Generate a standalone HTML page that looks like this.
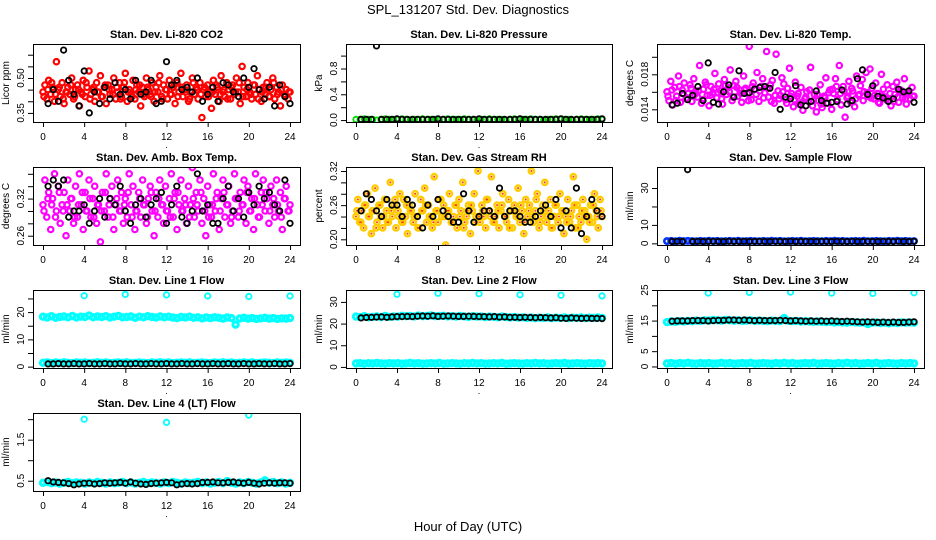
<!DOCTYPE html>
<html><head><meta charset="utf-8"><style>
body{margin:0;background:#fff;}
svg{display:block;font-family:"Liberation Sans",Arial,sans-serif;}
</style></head><body>
<svg id="chart" width="936" height="540" viewBox="0 0 936 540" xmlns="http://www.w3.org/2000/svg">
<rect width="936" height="540" fill="#fff"/>
<text x="468" y="14" text-anchor="middle" font-size="13">SPL_131207  Std. Dev. Diagnostics</text>
<text x="468" y="531" text-anchor="middle" font-size="13">Hour of Day (UTC)</text>
</svg>
<script>
// ---- data ----
const xTicks = [0,4,8,12,16,20,24];
const co2Red = [0.44,0.47,0.41,0.49,0.43,0.46,0.40,0.57,0.45,0.42,0.48,0.39,0.44,
0.46,0.43,0.50,0.41,0.45,0.47,0.38,0.44,0.49,0.42,0.46,0.53,0.43,
0.45,0.40,0.48,0.44,0.51,0.42,0.46,0.39,0.47,0.43,0.45,0.50,0.41,
0.44,0.48,0.42,0.46,0.52,0.40,0.45,0.43,0.49,0.41,0.47,0.44,0.38,
0.46,0.42,0.50,0.45,0.43,0.48,0.40,0.46,0.44,0.51,0.42,0.47,0.45,
0.41,0.49,0.43,0.46,0.39,0.48,0.44,0.52,0.42,0.45,0.47,0.40,0.44,
0.50,0.43,0.46,0.41,0.48,0.33,0.45,0.42,0.47,0.44,0.37,0.49,0.43,
0.46,0.40,0.51,0.44,0.42,0.48,0.45,0.41,0.47,0.43,0.50,0.44,0.39,
0.55,0.46,0.42,0.48,0.44,0.41,0.47,0.43,0.51,0.45,0.40,0.46,0.43,
0.48,0.42,0.45,0.50,0.41,0.46,0.44,0.38,0.47,0.43,0.45,0.41,0.44];
const co2Red2 = [0.42,0.45,0.48,0.43,0.46,0.41,0.44,0.47,0.42,0.45,0.43,0.48,0.41,0.46,0.44,0.42,0.47,0.45,0.43,0.46,0.41,0.48,0.44,0.42,0.45,0.47,0.43,0.46,0.42,0.44,0.48,0.41,0.45,0.43,0.47,0.42,0.46,0.44,0.41,0.48,0.45,0.43,0.46,0.42,0.44,0.47,0.43,0.45,0.41,0.46,0.44,0.48,0.42,0.45,0.43,0.47,0.41,0.44,0.46,0.42,0.48,0.43,0.45,0.42,0.44];
const co2Black = [0.39,0.45,0.40,0.62,0.49,0.43,0.38,0.53,0.35,0.44,0.39,0.46,0.41,0.48,0.43,0.45,0.41,0.49,0.43,0.44,0.49,0.39,0.40,0.57,0.47,0.49,0.45,0.46,0.44,0.50,0.40,0.43,0.46,0.40,0.48,0.47,0.44,0.42,0.50,0.46,0.54,0.45,0.41,0.46,0.38,0.47,0.42,0.39];
const presGreen = [0.01,0.01,0.02,0.01,0.01,0.00,0.01,0.02,0.01,0.01,0.01,0.02,0.01,0.00,0.01,0.01,0.02,0.01,0.01,0.01,0.00,0.01,0.02,0.01,0.01,0.01,0.02,0.01,0.01,0.00,0.01,0.01,0.02,0.01,0.01,0.01,0.00,0.01,0.02,0.01,0.01,0.01,0.02,0.01,0.01,0.00,0.01,0.01,0.02,0.01,0.01,0.01,0.00,0.01,0.02,0.01,0.01,0.01,0.02,0.01];
const presBlack = [0.01,0.01,0.01,1.15,0.01,0.01,0.01,0.02,0.01,0.01,0.01,0.01,0.01,0.01,0.01,0.02,0.01,0.01,0.01,0.01,0.01,0.01,0.01,0.02,0.01,0.01,0.01,0.01,0.01,0.01,0.01,0.02,0.01,0.01,0.01,0.01,0.01,0.01,0.01,0.02,0.01,0.01,0.01,0.01,0.01,0.01,0.01,0.02];
const tempMag = [0.0160,0.0150,0.0172,0.0145,0.0165,0.0155,0.0178,0.0148,0.0162,0.0170,0.0152,0.0158,0.0168,
0.0149,0.0175,0.0160,0.0154,0.0190,0.0147,0.0163,0.0171,0.0156,0.0144,0.0166,0.0159,0.0181,
0.0153,0.0169,0.0161,0.0146,0.0174,0.0157,0.0165,0.0185,0.0150,0.0167,0.0172,0.0155,0.0162,
0.0148,0.0178,0.0164,0.0158,0.0212,0.0151,0.0170,0.0163,0.0182,0.0149,0.0166,0.0175,0.0159,
0.0206,0.0154,0.0168,0.0173,0.0147,0.0203,0.0161,0.0156,0.0176,0.0169,0.0151,0.0164,0.0187,
0.0158,0.0143,0.0171,0.0155,0.0146,0.0165,0.0139,0.0152,0.0160,0.0149,0.0188,0.0144,0.0157,
0.0137,0.0150,0.0168,0.0142,0.0155,0.0176,0.0147,0.0162,0.0140,0.0158,0.0175,0.0151,0.0190,
0.0145,0.0166,0.0131,0.0153,0.0172,0.0148,0.0161,0.0143,0.0178,0.0156,0.0167,0.0174,0.0160,
0.0182,0.0155,0.0186,0.0164,0.0152,0.0170,0.0158,0.0147,0.0180,0.0163,0.0154,0.0168,0.0150,
0.0144,0.0166,0.0157,0.0171,0.0148,0.0162,0.0153,0.0175,0.0146,0.0159,0.0152,0.0165,0.0155];
const tempMag2 = [0.0155,0.0162,0.0150,0.0166,0.0158,0.0153,0.0164,0.0157,0.0161,0.0151,0.0168,0.0156,0.0163,0.0159,0.0152,0.0167,0.0160,0.0154,0.0165,0.0158,0.0162,0.0150,0.0166,0.0157,0.0161,0.0153,0.0164,0.0149,0.0156,0.0152,0.0160,0.0147,0.0155,0.0151,0.0158,0.0148,0.0154,0.0162,0.0150,0.0157,0.0146,0.0153,0.0159,0.0163,0.0166,0.0158,0.0161,0.0155,0.0164,0.0152,0.0157,0.0150,0.0159,0.0153,0.0156,0.0148,0.0155,0.0151,0.0158,0.0149,0.0154,0.0160,0.0152,0.0157,0.0155];
const tempBlack = [0.0145,0.0147,0.0158,0.0151,0.0156,0.0166,0.0150,0.0193,0.0148,0.0146,0.0160,0.0168,0.0154,0.0184,0.0158,0.0159,0.0163,0.0165,0.0166,0.0164,0.0182,0.0140,0.0154,0.0152,0.0167,0.0145,0.0144,0.0149,0.0161,0.0150,0.0147,0.0148,0.0149,0.0162,0.0146,0.0150,0.0175,0.0185,0.0157,0.0167,0.0155,0.0153,0.0149,0.0152,0.0163,0.0160,0.0161,0.0148];
const ambMag = [0.31,0.35,0.29,0.33,0.27,0.32,0.36,0.30,0.34,0.28,0.31,0.33,0.26,
0.35,0.30,0.32,0.28,0.34,0.29,0.36,0.31,0.27,0.33,0.30,0.35,0.29,
0.32,0.34,0.28,0.31,0.25,0.33,0.30,0.36,0.29,0.32,0.34,0.27,0.31,
0.35,0.30,0.33,0.28,0.32,0.29,0.36,0.31,0.34,0.27,0.30,0.33,0.29,
0.35,0.31,0.28,0.32,0.34,0.30,0.26,0.33,0.29,0.35,0.31,0.28,0.34,
0.30,0.32,0.36,0.29,0.33,0.27,0.31,0.35,0.30,0.32,0.28,0.34,0.31,
0.37,0.29,0.33,0.30,0.35,0.28,0.32,0.26,0.34,0.31,0.29,0.36,0.30,
0.33,0.27,0.32,0.35,0.29,0.31,0.34,0.28,0.30,0.36,0.32,0.29,0.33,
0.31,0.35,0.28,0.34,0.30,0.32,0.27,0.36,0.31,0.29,0.33,0.35,0.30,
0.32,0.28,0.34,0.31,0.29,0.35,0.30,0.33,0.27,0.32,0.34,0.30,0.31];
const ambMag2 = [0.30,0.32,0.31,0.29,0.33,0.30,0.31,0.32,0.29,0.31,0.33,0.30,0.32,0.29,0.31,0.30,0.33,0.31,0.29,0.32,0.30,0.31,0.33,0.29,0.30,0.32,0.31,0.29,0.33,0.30,0.32,0.31,0.30,0.29,0.32,0.33,0.30,0.31,0.29,0.32,0.31,0.33,0.30,0.29,0.31,0.32,0.30,0.33,0.31,0.29,0.32,0.30,0.31,0.33,0.30,0.32,0.29,0.31,0.33,0.30,0.32,0.31,0.29,0.32,0.30];
const ambBlack = [0.34,0.35,0.34,0.35,0.29,0.30,0.30,0.31,0.28,0.30,0.32,0.29,0.32,0.31,0.34,0.30,0.28,0.31,0.32,0.29,0.31,0.32,0.33,0.28,0.31,0.34,0.29,0.28,0.30,0.36,0.30,0.31,0.28,0.28,0.32,0.34,0.30,0.32,0.29,0.33,0.31,0.34,0.32,0.33,0.31,0.30,0.35,0.28];
const rhOrange = [0.24,0.27,0.23,0.25,0.22,0.26,0.28,0.24,0.21,0.25,0.29,0.23,0.26,
0.24,0.22,0.27,0.25,0.23,0.30,0.24,0.26,0.22,0.25,0.28,0.23,0.27,
0.24,0.21,0.26,0.25,0.23,0.28,0.24,0.22,0.27,0.25,0.29,0.23,0.26,
0.24,0.22,0.31,0.25,0.23,0.27,0.24,0.26,0.19,0.25,0.28,0.23,0.24,
0.26,0.22,0.27,0.25,0.30,0.23,0.24,0.26,0.21,0.25,0.28,0.24,0.32,
0.23,0.26,0.24,0.22,0.27,0.25,0.31,0.23,0.24,0.26,0.22,0.25,0.28,
0.24,0.23,0.27,0.25,0.22,0.26,0.24,0.29,0.23,0.25,0.21,0.27,0.24,
0.26,0.32,0.23,0.25,0.28,0.22,0.24,0.26,0.30,0.23,0.25,0.27,0.22,
0.24,0.26,0.23,0.28,0.25,0.21,0.24,0.27,0.23,0.25,0.31,0.22,0.26,
0.24,0.23,0.27,0.25,0.20,0.24,0.26,0.23,0.28,0.25,0.22,0.27,0.24];
const rhOrange2 = [0.25,0.23,0.26,0.24,0.25,0.22,0.26,0.24,0.23,0.25,0.27,0.24,0.23,0.26,0.25,0.24,0.22,0.25,0.26,0.24,0.23,0.25,0.27,0.24,0.25,0.23,0.26,0.24,0.22,0.25,0.26,0.23,0.24,0.25,0.27,0.24,0.23,0.25,0.26,0.24,0.22,0.25,0.24,0.26,0.23,0.25,0.24,0.27,0.23,0.25,0.24,0.22,0.26,0.24,0.25,0.23,0.24,0.26,0.22,0.25,0.24,0.23,0.26,0.24,0.25];
const rhBlack = [0.25,0.28,0.27,0.25,0.24,0.27,0.26,0.26,0.24,0.27,0.26,0.24,0.22,0.26,0.24,0.27,0.25,0.24,0.23,0.23,0.28,0.25,0.23,0.24,0.25,0.25,0.24,0.29,0.24,0.25,0.25,0.24,0.23,0.23,0.24,0.25,0.26,0.24,0.27,0.22,0.25,0.22,0.29,0.21,0.24,0.27,0.25,0.24];
const sampleBlue = [1.2,1.3,1.1,1.4,1.2,1.3,1.2,1.1,1.3,1.2,1.4,1.2,1.3,1.1,1.2,1.3,1.2,1.4,1.1,1.2,1.3,1.2,1.1,1.3,1.2,1.4,1.2,1.3,1.1,1.2,1.3,1.2,1.4,1.1,1.2,1.3,1.2,1.1,1.3,1.2,1.4,1.2,1.3,1.1,1.2,1.3,1.2,1.4,1.1,1.2,1.3,1.2,1.1,1.3,1.2,1.4,1.2,1.3,1.1,1.2];
const sampleBlack = [1.0,1.1,1.0,40.0,1.0,1.1,1.0,1.0,1.1,1.0,1.0,1.1,1.0,1.0,1.1,1.0,1.0,1.1,1.0,1.0,1.1,1.0,1.0,1.1,1.0,1.0,1.1,1.0,1.0,1.1,1.0,1.0,1.1,1.0,1.0,1.1,1.0,1.0,1.1,1.0,1.0,1.1,1.0,1.0,1.1,1.0,1.0,1.1];
const line1Upper = [18.3,18.0,18.5,17.9,18.2,18.4,18.1,18.6,18.0,18.3,18.2,18.7,18.1,18.4,18.2,18.5,18.0,18.3,18.6,18.1,18.2,18.4,17.9,18.3,18.1,18.5,18.2,18.0,18.4,18.1,18.3,18.0,17.8,18.2,18.0,18.3,17.9,18.1,17.7,18.0,17.8,18.1,17.9,17.6,18.0,17.8,15.4,17.7,17.9,17.6,17.8,17.5,17.7,17.9,17.6,17.8,17.5,17.7,17.6,17.8];
const line1Lower = [1.4,1.5,1.3,1.5,1.4,1.6,1.4,1.3,1.5,1.4,1.5,1.3,1.4,1.6,1.4,1.5,1.3,1.4,1.5,1.4,1.6,1.3,1.4,1.5,1.4,1.3,1.5,1.4,1.6,1.4,1.5,1.3,1.4,1.5,1.4,1.6,1.3,1.4,1.5,1.4,1.3,1.5,1.4,1.6,1.4,1.5,1.3,1.4,1.5,1.4,1.6,1.3,1.4,1.5,1.4,1.3,1.5,1.4,1.5,1.4];
const line1Out = [26.0,26.5,26.3,25.9,25.7,25.9];
const line1Black = [1.0,1.0,1.1,1.0,1.0,1.1,1.0,1.0,1.1,1.0,1.0,1.1,1.0,1.0,1.1,1.0,1.0,1.1,1.0,1.0,1.1,1.0,1.0,1.1,1.0,1.0,1.1,1.0,1.0,1.1,1.0,1.0,1.1,1.0,1.0,1.1,1.0,1.0,1.1,1.0,1.0,1.1,1.0,1.0,1.1,1.0,1.0,1.1];
const line2Upper = [23.2,23.0,23.4,22.9,23.1,23.3,23.0,23.5,23.1,23.3,23.2,23.6,23.4,23.5,23.3,23.7,23.4,23.5,23.8,23.4,23.5,23.6,23.3,23.4,23.2,23.5,23.3,23.1,23.4,23.2,23.3,23.0,23.2,23.1,22.9,23.2,23.0,22.8,23.0,22.7,22.9,22.6,22.8,22.5,22.7,22.6,22.8,22.5,22.7,22.6,22.8,22.5,22.7,22.6,22.8,22.5,22.7,22.6,22.8,22.6];
const line2Lower = [1.6,1.7,1.5,1.7,1.6,1.8,1.6,1.5,1.7,1.6,1.7,1.5,1.6,1.8,1.6,1.7,1.5,1.6,1.7,1.6,1.8,1.5,1.6,1.7,1.6,1.5,1.7,1.6,1.8,1.6,1.7,1.5,1.6,1.7,1.6,1.8,1.5,1.6,1.7,1.6,1.5,1.7,1.6,1.8,1.6,1.7,1.5,1.6,1.7,1.6,1.8,1.5,1.6,1.7,1.6,1.5,1.7,1.6,1.7,1.6];
const line2Out = [33.5,34.0,33.8,33.3,33.1,32.8];
const line2Black = [22.6,22.8,22.9,23.0,23.1,22.9,23.1,23.2,23.2,23.3,23.2,23.4,23.5,23.4,23.6,23.3,23.4,23.5,23.4,23.3,23.3,23.4,23.3,23.2,23.2,23.1,23.2,23.0,23.1,22.9,22.9,22.8,22.9,22.8,22.7,22.8,22.7,22.6,22.7,22.5,22.4,22.6,22.5,22.4,22.5,22.4,22.4,22.3];
const line3Upper = [14.5,14.7,14.6,14.8,14.7,14.9,14.8,15.0,14.9,15.1,15.0,15.2,15.1,15.0,15.2,15.1,15.0,15.1,14.9,15.0,15.1,14.9,15.0,14.9,14.8,15.0,14.9,14.8,15.8,14.9,14.8,14.9,14.7,14.8,14.7,14.6,14.7,14.6,14.5,14.6,14.4,14.5,14.4,14.3,14.5,14.4,14.3,14.4,13.9,14.3,14.4,14.2,14.3,14.1,14.3,14.2,14.4,14.3,14.4,14.3];
const line3Lower = [1.0,1.1,0.9,1.1,1.0,1.2,1.0,0.9,1.1,1.0,1.1,0.9,1.0,1.2,1.0,1.1,0.9,1.0,1.1,1.0,1.2,0.9,1.0,1.1,1.0,0.9,1.1,1.0,1.2,1.0,1.1,0.9,1.0,1.1,1.0,1.2,0.9,1.0,1.1,1.0,0.9,1.1,1.0,1.2,1.0,1.1,0.9,1.0,1.1,1.0,1.2,0.9,1.0,1.1,1.0,0.9,1.1,1.0,1.1,1.0];
const line3Out = [24.0,24.2,24.3,24.0,23.9,24.1];
const line3Black = [14.8,14.9,14.9,14.9,15.0,15.0,15.0,14.9,15.0,15.1,15.1,15.2,15.2,15.1,15.2,15.1,15.0,15.1,15.0,15.0,15.0,15.1,15.0,14.9,15.0,14.9,14.8,14.9,14.8,14.9,14.8,14.9,14.8,14.7,14.8,14.7,14.6,14.5,14.6,14.5,14.4,14.5,14.4,14.5,14.4,14.4,14.5,14.6];
const line4Band = [0.45,0.47,0.44,0.46,0.43,0.45,0.47,0.44,0.46,0.45,0.43,0.46,0.44,0.47,0.45,0.43,0.46,0.44,0.45,0.47,0.44,0.46,0.43,0.45,0.47,0.44,0.46,0.45,0.43,0.46,0.44,0.47,0.45,0.43,0.46,0.44,0.45,0.47,0.44,0.46,0.43,0.45,0.47,0.44,0.49,0.45,0.43,0.46,0.44,0.47,0.45,0.43,0.46,0.51,0.45,0.47,0.44,0.46,0.43,0.45];
const line4Out = [2.00,1.92,2.10];
const line4Black = [0.50,0.47,0.46,0.45,0.43,0.40,0.42,0.44,0.44,0.42,0.43,0.45,0.44,0.45,0.46,0.44,0.47,0.44,0.42,0.41,0.43,0.44,0.45,0.46,0.45,0.40,0.42,0.43,0.42,0.43,0.46,0.46,0.47,0.45,0.45,0.46,0.47,0.45,0.44,0.46,0.44,0.42,0.44,0.45,0.44,0.45,0.45,0.44];
const outTimes = [4,8,12,16,20,24];
const line4OutTimes = [4,12,20];

// ---- layout ----
const colX = [[33,300],[346,612],[657,924]];
const rowY = [44,167,290,413];
const H = 78;
const NS = "http://www.w3.org/2000/svg";
const svg = document.getElementById('chart');
function mk(tag, attrs, parent){ const e=document.createElementNS(NS,tag); for(const k in attrs) e.setAttribute(k,attrs[k]); (parent||svg).appendChild(e); return e; }

const panels = [
 {c:0,r:0,name:'co2',title:'Stan. Dev. Li-820 CO2',ylab:'Licor ppm',ymin:0.311,ymax:0.646,ticks:[0.35,0.40,0.45,0.50,0.55,0.60],labels:[0.35,0.50],fmt:2,
  series:[{v:co2Red,col:'#ff0000',t0:0,t1:24,w:2.2},{v:co2Red2,col:'#ff0000',t0:0.1,t1:23.9,w:2.2},{v:co2Black,col:'#000',t0:0.5,t1:24}]},
 {c:1,r:0,name:'pressure',title:'Stan. Dev. Li-820 Pressure',ylab:'kPa',ymin:-0.03,ymax:1.18,ticks:[0,0.2,0.4,0.6,0.8,1.0],labels:[0,0.4,0.8],fmt:1,
  series:[{v:presGreen,col:'#00dd00',t0:0,t1:24},{v:presBlack,col:'#000',t0:0.5,t1:24}]},
 {c:2,r:0,name:'li820-temp',title:'Stan. Dev. Li-820 Temp.',ylab:'degrees C',ymin:0.01255,ymax:0.02146,ticks:[0.014,0.016,0.018,0.020],labels:[0.014,0.018],fmt:3,
  series:[{v:tempMag,col:'#ff00ff',t0:0,t1:24,w:2.2},{v:tempMag2,col:'#ff00ff',t0:0.1,t1:23.9,w:2.2},{v:tempBlack,col:'#000',t0:0.5,t1:24}]},
 {c:0,r:1,name:'amb-box-temp',title:'Stan. Dev. Amb. Box Temp.',ylab:'degrees C',ymin:0.245,ymax:0.371,ticks:[0.26,0.28,0.30,0.32,0.34,0.36],labels:[0.26,0.32],fmt:2,
  series:[{v:ambMag,col:'#ff00ff',t0:0,t1:24,w:2.2},{v:ambMag2,col:'#ff00ff',t0:0.1,t1:23.9,w:2.2},{v:ambBlack,col:'#000',t0:0.5,t1:24}]},
 {c:1,r:1,name:'gas-stream-rh',title:'Stan. Dev. Gas Stream RH',ylab:'percent',ymin:0.19,ymax:0.327,ticks:[0.20,0.22,0.24,0.26,0.28,0.30,0.32],labels:[0.20,0.26,0.32],fmt:2,
  series:[{v:rhOrange,col:'#ffcc00',t0:0,t1:24,w:2.4,inner:'#ff3300'},{v:rhOrange2,col:'#ffcc00',t0:0.1,t1:23.9,w:2.4,inner:'#ff3300'},{v:rhBlack,col:'#000',t0:0.5,t1:24}]},
 {c:2,r:1,name:'sample-flow',title:'Stan. Dev. Sample Flow',ylab:'ml/min',ymin:-0.9,ymax:41.4,ticks:[0,10,20,30],labels:[0,10,30],fmt:0,
  series:[{v:sampleBlue,col:'#0033ff',t0:0,t1:24,w:2.6},{v:sampleBlack,col:'#000',t0:0.5,t1:24}]},
 {c:0,r:2,name:'line1-flow',title:'Stan. Dev. Line 1 Flow',ylab:'ml/min',ymin:-0.5,ymax:28.1,ticks:[0,5,10,15,20,25],labels:[0,10,20],fmt:0,
  series:[{v:line1Upper,col:'#00ffff',t0:0,t1:24,w:3},{v:line1Lower,col:'#00ffff',t0:0,t1:24,w:3},{v:line1Out,col:'#00ffff',times:outTimes},{v:line1Black,col:'#000',t0:0.5,t1:24}]},
 {c:1,r:2,name:'line2-flow',title:'Stan. Dev. Line 2 Flow',ylab:'ml/min',ymin:-0.5,ymax:35.5,ticks:[0,10,20,30],labels:[0,10,20,30],fmt:0,
  series:[{v:line2Upper,col:'#00ffff',t0:0,t1:24,w:3},{v:line2Lower,col:'#00ffff',t0:0,t1:24,w:3},{v:line2Out,col:'#00ffff',times:outTimes},{v:line2Black,col:'#000',t0:0.5,t1:24}]},
 {c:2,r:2,name:'line3-flow',title:'Stan. Dev. Line 3 Flow',ylab:'ml/min',ymin:-0.5,ymax:25,ticks:[0,5,10,15,20,25],labels:[0,5,15,25],fmt:0,
  series:[{v:line3Upper,col:'#00ffff',t0:0,t1:24,w:3},{v:line3Lower,col:'#00ffff',t0:0,t1:24,w:3},{v:line3Out,col:'#00ffff',times:outTimes},{v:line3Black,col:'#000',t0:0.5,t1:24}]},
 {c:0,r:3,name:'line4-flow',title:'Stan. Dev. Line 4 (LT) Flow',ylab:'ml/min',ymin:0.25,ymax:2.15,ticks:[0.5,1.0,1.5,2.0],labels:[0.5,1.5],fmt:1,
  series:[{v:line4Band,col:'#00ffff',t0:0,t1:24,w:3},{v:line4Out,col:'#00ffff',times:line4OutTimes},{v:line4Black,col:'#000',t0:0.5,t1:24}]}
];

panels.forEach(p=>{
  const [L,R] = colX[p.c]; const T=rowY[p.r]; const B=T+H;
  const x0=L+10, x1=R-10;
  const xs = t => x0 + (x1-x0)*t/24;
  const ys = v => B - (B-T)*(v-p.ymin)/(p.ymax-p.ymin);
  const g = mk('g',{});
  
  
  const clip = mk('clipPath',{id:'clip-'+p.name},g);
  mk('rect',{x:L,y:T,width:R-L,height:H},clip);
  const title = mk('text',{x:(L+R)/2,y:T-6,'text-anchor':'middle','font-size':11,'font-weight':'bold'},g);
  title.textContent=p.title;
  
  
  const pg = mk('g',{'clip-path':'url(#clip-'+p.name+')',fill:'none'},g);
  
  
  p.series.forEach(s=>{
    const n=s.v.length;
    s.v.forEach((v,i)=>{
      const t = s.times ? s.times[i] : (s.t0 + (s.t1-s.t0)*(n>1?i/(n-1):0));
      const c = mk('circle',{cx:xs(t).toFixed(1),cy:ys(v).toFixed(1),r:2.7,stroke:s.col,'stroke-width':s.w||1.8},pg);
      
      
      if(s.inner){ mk('circle',{cx:xs(t).toFixed(1),cy:ys(v).toFixed(1),r:1,fill:s.inner},pg); }
    });
  });
  const box = mk('rect',{x:L+0.5,y:T+0.5,width:R-L,height:H,fill:'none',stroke:'#000','stroke-width':1},g);
  
  
  const xa = mk('g',{},g);
  
  
  mk('line',{x1:xs(0),x2:xs(24),y1:B+0.5,y2:B+0.5,stroke:'#000'},xa);
  xTicks.forEach(t=>{
    mk('line',{x1:xs(t)+0.5,x2:xs(t)+0.5,y1:B,y2:B+5,stroke:'#000'},xa);
    const tx=mk('text',{x:xs(t),y:B+18,'text-anchor':'middle','font-size':10},xa); tx.textContent=t;
  });
  const dot=mk('text',{x:(L+R)/2,y:B+26,'text-anchor':'middle','font-size':9},xa); dot.textContent='.';
  const ya = mk('g',{},g);
  
  
  p.ticks.forEach(v=>{
    const y=ys(v);
    mk('line',{x1:L-5,x2:L,y1:y+0.5,y2:y+0.5,stroke:'#000'},ya);
  });
  mk('line',{x1:L+0.5,x2:L+0.5,y1:ys(p.ticks[0]),y2:ys(p.ticks[p.ticks.length-1]),stroke:'#000'},ya);
  p.labels.forEach(v=>{
    const y=ys(v);
    const tx=mk('text',{x:0,y:0,'text-anchor':'middle','font-size':10,transform:`translate(${L-9},${y}) rotate(-90)`},ya);
    tx.textContent=v.toFixed(p.fmt);
  });
  const yl=mk('text',{x:0,y:0,'text-anchor':'middle','font-size':10,transform:`translate(${L-24},${(T+B)/2}) rotate(-90)`},ya);
  yl.textContent=p.ylab;
  
  
});
</script>
</body></html>
